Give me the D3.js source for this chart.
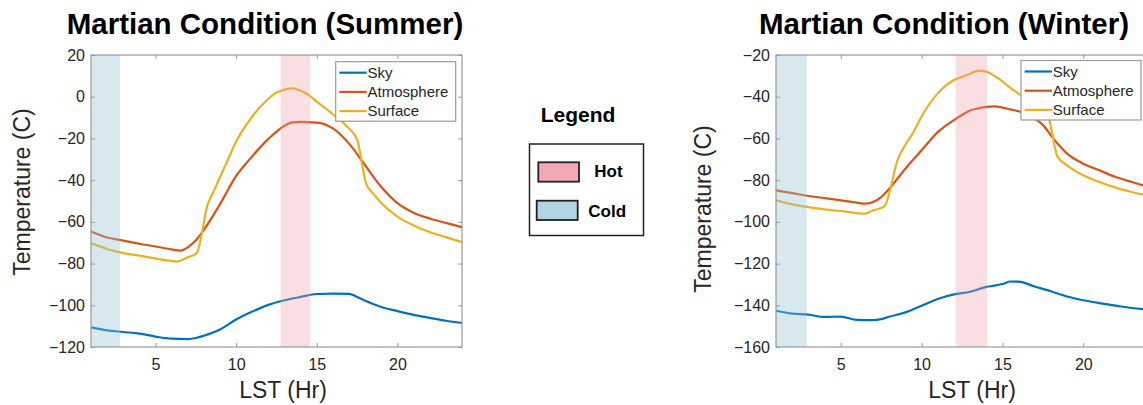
<!DOCTYPE html>
<html>
<head>
<meta charset="utf-8">
<script src="https://cdn.jsdelivr.net/npm/d3@7"></script>
<style>
html,body{margin:0;padding:0;background:#fff;overflow:hidden}
svg{display:block;font-family:"Liberation Sans",Arial,Helvetica,sans-serif}
</style>
</head>
<body>
<svg id="chart" width="1143" height="405"></svg>
<script>
// series names / colours (MATLAB default order)
const seriesNames=["Sky","Atmosphere","Surface"];
const seriesColors=["#0072bd","#d95319","#edb120"];
const xTicks=[5,10,15,20];
const summerYTicks=[-120,-100,-80,-60,-40,-20,0,20];
const winterYTicks=[-160,-140,-120,-100,-80,-60,-40,-20];

// [LST hour, temperature C]
const summerSky=[[1,-110.6],[2,-112.0],[3,-112.8],[4,-113.6],[5,-115.0],[6,-116.0],[7,-116.2],[7.5,-115.7],[8,-114.6],[9,-111.6],[10,-106.8],[11,-103.0],[12,-99.8],[13,-97.6],[14,-96.0],[15,-94.6],[16,-94.4],[17,-94.5],[17.5,-96.0],[18,-97.8],[19,-100.8],[20,-102.8],[21,-104.6],[22,-106.0],[23,-107.4],[24,-108.5]];
const summerAtmosphere=[[1,-64.6],[2,-67.5],[3,-69.0],[4,-70.5],[5,-71.8],[6,-73.2],[6.5,-73.8],[7,-72.2],[7.5,-68.8],[8,-63.8],[9,-51.5],[10,-38.0],[11,-28.5],[12,-20.2],[13,-13.9],[13.5,-12.3],[14,-12.1],[15,-12.4],[16,-15.2],[17,-22.5],[18,-32.9],[19,-43.3],[20,-51.0],[21,-55.6],[22,-58.4],[23,-60.5],[24,-62.5]];
const summerSurface=[[1,-70.2],[2,-73.0],[3,-75.0],[4,-76.2],[5,-77.6],[6,-78.8],[6.3,-79.0],[7,-77.0],[7.55,-75.0],[8.25,-51.3],[8.6,-45.5],[9,-38.5],[9.5,-30.0],[10,-21.5],[11,-9.5],[12,-1.0],[12.5,2.0],[13,3.4],[13.5,4.0],[14,2.9],[14.5,0.8],[15,-2.4],[16,-8.4],[17,-15.3],[17.5,-20.5],[18.05,-41.5],[18.5,-46.5],[19,-51.0],[20,-57.5],[21,-61.7],[22,-64.9],[23,-67.3],[24,-69.7]];

const winterSky=[[1,-142.6],[2,-144.0],[3,-144.5],[4,-145.6],[5,-145.4],[6,-147.0],[7,-147.1],[7.5,-146.6],[8,-145.5],[9,-143.4],[10,-140.2],[11,-137.0],[12,-134.8],[13,-133.5],[14,-131.2],[14.5,-130.6],[15,-129.8],[15.5,-128.6],[16,-128.7],[17,-131.0],[18,-133.3],[19,-135.8],[20,-137.6],[21,-139.0],[22,-140.2],[23,-141.3],[24,-142.0]];
const winterAtmosphere=[[1,-84.9],[2,-86.2],[3,-87.6],[4,-88.6],[5,-89.7],[6,-90.8],[6.5,-91.3],[7,-90.5],[7.5,-88.1],[8,-84.1],[9,-74.5],[10,-65.7],[11,-57.0],[12,-51.2],[12.5,-48.8],[13,-46.6],[13.5,-45.6],[14,-44.9],[14.5,-44.6],[15,-45.2],[15.5,-46.1],[16,-47.0],[17,-50.6],[17.5,-53.5],[18,-58.5],[18.5,-63.3],[19,-67.3],[20,-72.1],[21,-75.3],[22,-78.5],[23,-80.9],[24,-83.2]];
const winterSurface=[[1,-89.7],[2,-91.6],[3,-92.9],[4,-94.0],[5,-94.8],[6,-95.8],[6.5,-96.1],[7,-94.5],[7.7,-92.6],[8.55,-69.7],[9,-63.0],[9.5,-57.0],[10,-49.5],[11,-38.4],[12,-32.0],[12.5,-30.5],[13,-29.0],[13.5,-27.5],[14,-28.0],[14.5,-30.0],[15,-32.6],[15.5,-35.8],[16,-38.5],[17,-43.5],[17.6,-46.5],[17.9,-51.3],[18.4,-68.6],[19,-72.9],[20,-77.7],[21,-80.9],[22,-83.6],[23,-85.7],[24,-87.5]];

// shaded hour ranges
const summerCold=[1,2.8], summerHot=[12.75,14.6];
const winterCold=[1,2.9], winterHot=[12.1,14.05];

const svg=d3.select("#chart");

const panels=[
  {title:"Martian Condition (Summer)",series:[summerSky,summerAtmosphere,summerSurface],
   yDomain:[-120,20],yTicks:summerYTicks,cold:summerCold,hot:summerHot,
   x0:91,x1:462,y0:55,y1:347,titleX:265,ylabX:29.5,ylabY:192,xlabX:283,legX:335.7,legY:61.7},
  {title:"Martian Condition (Winter)",series:[winterSky,winterAtmosphere,winterSurface],
   yDomain:[-160,-20],yTicks:winterYTicks,cold:winterCold,hot:winterHot,
   x0:776,x1:1148,y0:55,y1:347,titleX:944,ylabX:711,ylabY:209,xlabX:972,legX:1021,legY:60.5}
];

panels.forEach(drawPanel);
drawKey();

function drawPanel(p){
  const x=d3.scaleLinear().domain([1,24]).range([p.x0,p.x1]);
  const y=d3.scaleLinear().domain(p.yDomain).range([p.y1,p.y0]);
  const g=svg.append("g");

  const line=d3.line().x(d=>x(d[0])).y(d=>y(d[1])).curve(d3.curveMonotoneX);
  g.selectAll("path.series").data(p.series).join("path")
    .attr("class","series").attr("d",line).attr("fill","none")
    .attr("stroke",(d,i)=>seriesColors[i]).attr("stroke-width",2.2)
    .attr("stroke-linejoin","round");

  // translucent bands sit over the curves
  [[p.cold,"#8fc1d4",0.36],[p.hot,"#ef9aa6",0.32]].forEach(([r,c,o])=>{
    g.append("rect").attr("x",x(r[0])).attr("width",x(r[1])-x(r[0]))
      .attr("y",p.y0).attr("height",p.y1-p.y0).attr("fill",c).attr("opacity",o);
  });

  const tickCol="#9a9a9a", labCol="#262626";
  const style=a=>{
    a.select(".domain").remove();
    a.selectAll(".tick line").attr("stroke",tickCol);
    a.selectAll(".tick text").attr("fill",labCol);
    a.attr("font-size",16).attr("font-family",null);
  };
  g.append("g").attr("transform",`translate(0,${p.y1})`)
    .call(d3.axisBottom(x).tickValues(xTicks).tickSize(-4).tickPadding(12)).call(style);
  g.append("g").attr("transform",`translate(0,${p.y0})`)
    .call(d3.axisTop(x).tickValues(xTicks).tickSize(-4).tickFormat("")).call(style);
  g.append("g").attr("transform",`translate(${p.x0},0)`)
    .call(d3.axisLeft(y).tickValues(p.yTicks).tickSize(-4).tickPadding(6)).call(style);
  g.append("g").attr("transform",`translate(${p.x1},0)`)
    .call(d3.axisRight(y).tickValues(p.yTicks).tickSize(-4).tickFormat("")).call(style);
  g.append("rect").attr("x",p.x0).attr("y",p.y0).attr("width",p.x1-p.x0).attr("height",p.y1-p.y0)
    .attr("fill","none").attr("stroke",tickCol).attr("stroke-width",1.2);

  g.append("text").attr("x",p.titleX).attr("y",33.5).attr("text-anchor","middle")
    .attr("font-size",29.5).attr("font-weight","bold").attr("fill","#000").text(p.title);
  g.append("text").attr("transform",`translate(${p.ylabX},${p.ylabY}) rotate(-90)`)
    .attr("text-anchor","middle").attr("font-size",23).attr("fill",labCol).text("Temperature (C)");
  g.append("text").attr("x",p.xlabX).attr("y",398).attr("text-anchor","middle")
    .attr("font-size",23).attr("fill",labCol).text("LST (Hr)");

  // series legend
  const lg=g.append("g").attr("transform",`translate(${p.legX},${p.legY})`);
  lg.append("rect").attr("width",120).attr("height",59.5).attr("fill","#fff")
    .attr("stroke",tickCol).attr("stroke-width",1.2);
  seriesNames.forEach((n,i)=>{
    const yy=11+i*19.2;
    lg.append("line").attr("x1",3.6).attr("x2",31).attr("y1",yy).attr("y2",yy)
      .attr("stroke",seriesColors[i]).attr("stroke-width",2.2);
    lg.append("text").attr("x",31.8).attr("y",yy+5.3).attr("font-size",15)
      .attr("fill",labCol).text(n);
  });
}

function drawKey(){
  const k=svg.append("g");
  k.append("text").attr("x",578).attr("y",121.5).attr("text-anchor","middle")
    .attr("font-size",21).attr("font-weight","bold").text("Legend");
  k.append("rect").attr("x",529.5).attr("y",144).attr("width",114).attr("height",91.5)
    .attr("fill","#fff").attr("stroke","#222").attr("stroke-width",1.5);
  k.append("rect").attr("x",538.3).attr("y",162.3).attr("width",40.7).attr("height",19.4)
    .attr("fill","#f2a9b4").attr("stroke","#222").attr("stroke-width",1.8);
  k.append("rect").attr("x",536.7).attr("y",200.7).attr("width",41).attr("height",19.3)
    .attr("fill","#b0d5e0").attr("stroke","#222").attr("stroke-width",1.8);
  k.append("text").attr("x",594.3).attr("y",177).attr("font-size",17).attr("font-weight","bold").text("Hot");
  k.append("text").attr("x",588.3).attr("y",217).attr("font-size",17).attr("font-weight","bold").text("Cold");
}
</script>
</body>
</html>
